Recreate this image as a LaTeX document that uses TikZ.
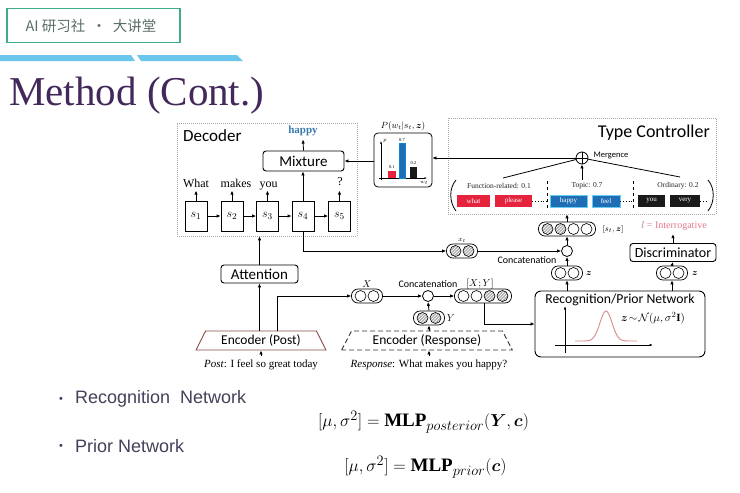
\documentclass[tikz,border=0pt]{standalone}
\usepackage{fontspec}
\usepackage{amsmath,bm}
\setmainfont{Liberation Serif}
\newfontfamily\calfont{Carlito}
\newfontfamily\arialfont{Liberation Sans}
\newfontfamily\cjkfont{Noto Sans CJK SC}
\usetikzlibrary{shapes.geometric,patterns,arrows.meta,calc}
\newcommand\fsz[1]{\fontsize{#1}{#1}\selectfont}
\definecolor{hdrgreen}{HTML}{3DAE87}
\definecolor{hdrtext}{HTML}{5A6E66}
\definecolor{barblue}{HTML}{6CC5EC}
\definecolor{titlepurple}{HTML}{43285A}
\definecolor{tcred}{HTML}{E5233C}
\definecolor{tcblue}{HTML}{1F6EB5}
\definecolor{tcblack}{HTML}{1A1A1A}
\definecolor{happyblue}{HTML}{3A7AB0}
\definecolor{gausscol}{HTML}{D88A8A}
\definecolor{interro}{HTML}{E07A8A}
\definecolor{bodygray}{HTML}{45405A}
\definecolor{boxgray}{HTML}{A8A8A8}
\definecolor{encbrown}{HTML}{8B4A4A}
\begin{document}
\begin{tikzpicture}[x=1pt,y=-1pt,
  rbox/.style={draw=black, line width=0.9pt, rounded corners=3pt, inner sep=0pt, font=\calfont\fsz{15}},
  sbox/.style={draw, line width=0.8pt, minimum width=22pt, minimum height=30pt, inner sep=0pt, font=\fsz{13}},
  arr/.style={-{Latex[length=4pt,width=3.5pt]}, line width=0.8pt},
  ln/.style={line width=0.8pt},
  capsule/.style={draw, line width=0.7pt, rounded corners=6.5pt, minimum height=14pt, inner sep=0pt},
  hatch/.style={circle, draw, line width=0.6pt, minimum size=11pt, inner sep=0pt, preaction={fill=gray!60}, pattern=north east lines, pattern color=white},
  wcirc/.style={circle, draw, line width=0.6pt, minimum size=11pt, inner sep=0pt, fill=white},
  ccirc/.style={circle, draw, line width=0.8pt, minimum size=11pt, inner sep=0pt, fill=white},
  wordbox/.style={minimum height=12pt, inner sep=0pt, text=white, font=\fsz{7}},
  frame/.style={draw=boxgray, line width=0.6pt, dash pattern=on 1pt off 1pt},
  word/.style={font=\fsz{12}, inner sep=1pt, anchor=base},
  catlab/.style={font=\fsz{7.5}, text=black!85}
]
\useasboundingbox (0,0) rectangle (740,493);
\fill[white] (0,0) rectangle (740,493);

% ---------- header ----------
\node[draw=hdrgreen, line width=1.5pt, minimum width=173pt, minimum height=34pt] (hdr) at (93.5,25.5) {};
\node[text=hdrtext, font=\cjkfont\fsz{14.5}] (hdrt) at (91,26) {AI 研习社 \ · \ 大讲堂};
\fill[barblue] (0,55) -- (131,55) -- (135,61) -- (0,61) -- cycle;
\fill[barblue] (137,55) -- (237,55) -- (243,61) -- (141,61) -- cycle;
\node[anchor=base west, text=titlepurple, font=\fsz{41}, inner sep=0pt] (title) at (9,105) {Method (Cont.)};

% ---------- decoder ----------
\node[frame, minimum width=180pt, minimum height=113pt] (dec) at (267,179.5) {};
\node[anchor=west, font=\calfont\fsz{17}, inner sep=0pt] (dectxt) at (183,136) {Decoder};
\node[font=\bfseries\fsz{11}, text=happyblue] (happy) at (303,131) {happy};
\node[rbox, minimum width=81pt, minimum height=20pt] (mix) at (303.5,161) {Mixture};
\node[sbox] (s1) at (196,216) {$s_1$};
\node[sbox] (s2) at (232,216) {$s_2$};
\node[sbox] (s3) at (267.5,216) {$s_3$};
\node[sbox] (s4) at (303,216) {$s_4$};
\node[sbox] (s5) at (339.5,216) {$s_5$};
\node[word] (w1) at (196,187) {What};
\node[word] (w2) at (236,187) {makes};
\node[word] (w3) at (268.5,187) {you};
\node[word] (w5) at (340,185) {?};
\foreach \a/\b in {s1/s2,s2/s3,s3/s4,s4/s5} \draw[arr] (\a.east) -- (\b.west);
\draw[arr] (s1.north) -- ++(0,-10);
\draw[arr] (s2.north) -- ++(0,-10);
\draw[arr] (s3.north) -- ++(0,-10);
\draw[arr] (s5.north) -- ++(0,-10);
\draw[arr] (s4.north) -- (s4.north |- mix.south);
\draw[arr] (mix.north) -- (happy.south);

% ---------- chart ----------
\node[draw, line width=0.8pt, rounded corners=4pt, minimum width=58pt, minimum height=54pt] (chart) at (403,160) {};
\node[font=\fsz{9}] (plab) at (403,126) {$P(w_t|s_t,\bm z)$};
\draw[-{Latex[length=2.5pt]}, line width=0.5pt] (381,180) -- (381,141);
\draw[-{Latex[length=2.5pt]}, line width=0.5pt] (379,178) -- (427,178);
\fill[tcred] (388,171) rectangle (396,178);
\fill[tcblue, draw=cyan!70!blue, line width=0.4pt] (399,143) rectangle (405,178);
\fill[tcblack] (410,167) rectangle (417,178);
\node[font=\fsz{4.5}] at (392,167.5) {0.1};
\node[font=\fsz{4.5}] at (402,140.5) {0.7};
\node[font=\fsz{4.5}] at (413.5,163.5) {0.2};
\node[font=\fsz{5}] at (385,141) {$p$};
\node[font=\fsz{5}] at (424,183) {$w_t$};
\draw[arr] (chart.west |- mix.east) -- (mix.east);

% ---------- type controller ----------
\node[frame, minimum width=268pt, minimum height=96pt] (tc) at (582,166) {};
\node[anchor=east, font=\calfont\fsz{18}, inner sep=0pt] (tctxt) at (710,133) {Type Controller};
\node[circle, draw, line width=0.8pt, minimum size=12pt, inner sep=0pt, fill=white] (merge) at (582,158) {};
\draw[line width=0.8pt] (merge.north) -- (merge.south) (merge.west) -- (merge.east);
\node[anchor=west, font=\calfont\fsz{8.5}] (mtxt) at (590,156) {Mergence};
\draw[arr] (merge.west) -- (merge.west -| chart.east);
\coordinate (fr) at (503,178);
\coordinate (od) at (680,177);
\coordinate (tp) at (582,180);
\draw[ln] (merge) -- (fr);
\draw[ln] (merge) -- (od);
\draw[arr] (tp) -- (merge.south);
\node[catlab] (c1) at (499,186) {Function-related: 0.1};
\node[catlab] (c2) at (587,186) {Topic: 0.7};
\node[catlab] (c3) at (678,186) {Ordinary: 0.2};
\node[wordbox, fill=tcred, minimum width=33pt] (bw1) at (473.5,201) {what};
\node[wordbox, fill=tcred, minimum width=37pt] (bw2) at (513.5,201) {please};
\node[wordbox, fill=tcblue, minimum width=37pt, draw=cyan!60, line width=0.5pt] (bw3) at (568.5,201) {happy};
\node[wordbox, fill=tcblue, minimum width=28pt, draw=cyan!60, line width=0.5pt] (bw4) at (606,201) {feel};
\node[wordbox, fill=tcblack, minimum width=27pt] (bw5) at (651.5,201) {you};
\node[wordbox, fill=tcblack, minimum width=30pt] (bw6) at (685,201) {very};
\draw[dotted, line width=0.8pt] (bw2.east) -- (547,201);
\draw[dotted, line width=0.8pt] (bw4.east) -- (633,201);
\draw[dotted, line width=0.8pt] (bw6.east) -- (708,201);
\draw[dashed, line width=0.6pt] (547,181) -- (547,210);
\draw[dashed, line width=0.6pt] (633,181) -- (633,210);
\draw[line width=0.8pt] (456,180) .. controls (449,188) and (449,202) .. (456,211);
\draw[line width=0.8pt] (708,180) .. controls (715,188) and (715,202) .. (708,211);

% ---------- circle groups ----------
\node[capsule, minimum width=57pt] (stz) at (567,229) {};
\node[hatch] at (547.5,229) {}; \node[hatch] at (560.5,229) {};
\node[wcirc] at (573.5,229) {}; \node[wcirc] at (586.5,229) {};
\node[font=\fsz{8}] (stzl) at (613,229) {$[s_t,\bm z]$};
\node[ccirc] (cc2) at (567,251) {};
\node[font=\calfont\fsz{10}] (cc2l) at (527,260) {Concatenation};
\node[capsule, minimum width=31pt] (xt) at (462,251) {};
\node[hatch] at (455.5,251) {}; \node[hatch] at (468.5,251) {};
\node[font=\fsz{7}] (xtl) at (462,240) {$x_t$};
\node[capsule, minimum width=31pt] (z1) at (567,273) {};
\node[wcirc] at (560.5,273) {}; \node[wcirc] at (573.5,273) {};
\node[font=\fsz{9}] (z1l) at (589,273) {$\bm z$};
\node[capsule, minimum width=31pt] (z2) at (672,273) {};
\node[wcirc] at (665.5,273) {}; \node[wcirc] at (678.5,273) {};
\node[font=\fsz{9}] (z2l) at (695,273) {$\bm z$};
\node[capsule, minimum width=31pt] (X) at (367,296) {};
\node[wcirc] at (360.5,296) {}; \node[wcirc] at (373.5,296) {};
\node[font=\fsz{10}] (Xl) at (367,284) {$X$};
\node[ccirc] (cc1) at (428,296) {};
\node[font=\calfont\fsz{10}] (cc1l) at (428,284) {Concatenation};
\node[capsule, minimum width=57pt] (XY) at (483,296) {};
\node[wcirc] at (463.5,296) {}; \node[wcirc] at (476.5,296) {};
\node[hatch] at (489.5,296) {}; \node[hatch] at (502.5,296) {};
\node[font=\fsz{10}] (XYl) at (480,284) {$[X;Y]$};
\node[capsule, minimum width=31pt] (Y) at (429,318) {};
\node[hatch] at (422.5,318) {}; \node[hatch] at (435.5,318) {};
\node[font=\fsz{10}] (Yl) at (451,318) {$Y$};

% ---------- discriminator / label ----------
\node[rbox, font=\calfont\fsz{14}, minimum width=86pt, minimum height=18pt] (disc) at (673,252.5) {Discriminator};
\node[font=\fsz{10}] (ilab) at (674,226) {{\color{gray}$l$} {\color{interro}= Interrogative}};

% ---------- recognition ----------
\node[rbox, rounded corners=6pt, minimum width=170pt, minimum height=66pt] (rec) at (620,324) {};
\node[font=\calfont\fsz{13.7}] (rectxt) at (620,300) {Recognition/Prior Network};
\draw[-{Latex[length=3.5pt]}, line width=0.7pt] (565,353) -- (565,306);
\draw[-{Latex[length=3.5pt]}, line width=0.7pt] (555,345) -- (653,345);
\draw[gausscol, line width=0.9pt] plot[domain=575:637, samples=60] (\x, {341 - 30*exp(-((\x-606)/8.5)^2)});
\node[font=\fsz{11}] (gtxt) at (653,318) {$\bm z\!\sim\!\mathcal{N}(\mu,\sigma^2\mathbf{I})$};

% ---------- encoders ----------
\node[rbox, minimum width=77pt, minimum height=18pt] (att) at (259.5,274) {Attention};
\node[trapezium, trapezium stretches=true, trapezium left angle=68, trapezium right angle=68,
      minimum width=130pt, minimum height=19pt, draw=encbrown, line width=0.9pt, font=\calfont\fsz{13.5}] (encp) at (261,340.5) {Encoder (Post)};
\node[trapezium, trapezium stretches=true, trapezium left angle=68, trapezium right angle=68,
      minimum width=171pt, minimum height=19pt, draw=black!80, dash pattern=on 5pt off 3pt, line width=0.9pt, font=\calfont\fsz{13.5}] (encr) at (427,340.5) {Encoder (Response)};
\node[font=\fsz{11}] (post) at (261,365) {\textit{Post}: I feel so great today};
\node[font=\fsz{11}] (resp) at (429,365) {\textit{Response}: What makes you happy?};
\draw[arr] (post.north) -- (post.north |- encp.south);
\draw[arr] (resp.north -| Y.south) -- (Y.south |- encr.south);

% ---------- connectors ----------
\draw[arr] (att.north) -- (att.north |- dec.south);
\draw[arr] (att.south |- encp.north) -- (att.south);
\coordinate (ep) at ($(encp.north)+(16,0)$);
\draw[arr] (ep) |- (X.west);
\draw[arr] (X.east) -- (cc1.west);
\draw[arr] (Y.north) -- (cc1.south);
\draw[arr] (Y.south |- encr.north) -- (Y.south);
\draw[arr] (cc1.east) -- (XY.west);
\coordinate (xyb) at ($(XY.south)+(1,0)$);
\draw[arr] (xyb) |- (rec.west);
\draw[arr] (s4.south) |- (xt.west);
\draw[arr] (xt.east) -- (cc2.west);
\draw[arr] (rec.north -| z1.south) -- (z1.south);
\draw[arr] (z1.north) -- (cc2.south);
\draw[arr] (cc2.north) -- (stz.south);
\draw[arr] (stz.north) -- (stz.north |- tc.south);
\draw[arr] (rec.north -| z2.south) -- (z2.south);
\draw[arr] (z2.north) -- (disc.south);
\draw[arr] (disc.north) -- (ilab.south -| disc.north);

% ---------- bottom text ----------
\node[text=bodygray, font=\arialfont\fsz{11}] (bul1) at (61,400) {•};
\node[anchor=west, text=bodygray, font=\arialfont\fsz{18}, inner sep=0pt] (b1) at (75,399) {Recognition\ \ Network};
\node[text=bodygray, font=\arialfont\fsz{11}] (bul2) at (61,447) {•};
\node[anchor=west, text=bodygray, font=\arialfont\fsz{18}, inner sep=0pt] (b2) at (75,446) {Prior Network};
\node[font=\fsz{19}] (f1) at (423.5,422) {$[\mu,\sigma^2]=\mathbf{MLP}_{posterior}(\bm{Y},\bm{c})$};
\node[font=\fsz{19}] (f2) at (425.5,467) {$[\mu,\sigma^2]=\mathbf{MLP}_{prior}(\bm{c})$};
\end{tikzpicture}
\end{document}
